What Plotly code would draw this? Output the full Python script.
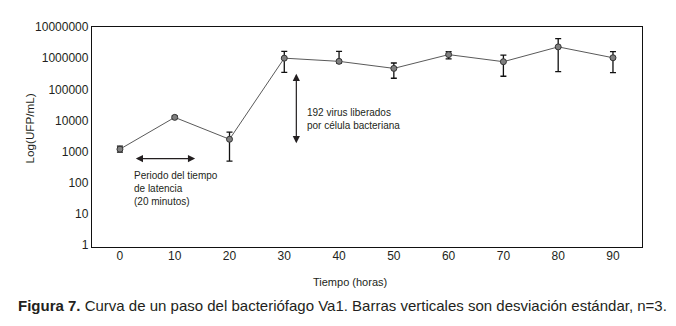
import plotly.graph_objects as go
import math

tiempo = [0, 10, 20, 30, 40, 50, 60, 70, 80, 90]
ufp = [1200, 12600, 2500, 1000000, 790000, 470000, 1300000, 770000, 2300000, 1030000]
err_sup = [1500, 14000, 4200, 1660000, 1660000, 700000, 1630000, 1250000, 4250000, 1620000]
err_inf = [960, 11500, 500, 350000, 700000, 227000, 955000, 263000, 370000, 345000]

y_ticks = [1, 10, 100, 1000, 10000, 100000, 1000000, 10000000]
y_ticktext = ["1", "10", "100", "1000", "10000", "100000", "1000000", "10000000"]
x_ticks = [0, 10, 20, 30, 40, 50, 60, 70, 80, 90]

FONT = "Liberation Sans, Arial, sans-serif"
INK = "#231f20"

fig = go.Figure()
fig.add_trace(go.Scatter(
    x=tiempo, y=ufp, mode="lines+markers",
    line=dict(color="#5a5a5a", width=1),
    marker=dict(size=6, color="#7f7f7f", line=dict(color="#333333", width=1)),
    error_y=dict(type="data", symmetric=False,
                 array=[s - v for s, v in zip(err_sup, ufp)],
                 arrayminus=[v - i for v, i in zip(ufp, err_inf)],
                 color="#111111", thickness=1.3, width=3),
    showlegend=False,
))

annotations = [
    # latency double arrow
    dict(x=2.9, y=math.log10(600), ax=14.0, ay=math.log10(600), xref="x", yref="y",
         axref="x", ayref="y", text="", showarrow=True, arrowhead=2, arrowside="end+start",
         arrowsize=1.2, arrowwidth=1.2, arrowcolor=INK),
    dict(x=2.2, y=math.log10(600), xref="x", yref="y", xanchor="left", yanchor="top",
         yshift=-9, align="left", showarrow=False,
         text="Periodo del tiempo<br>de latencia<br>(20 minutos)",
         font=dict(family=FONT, size=10, color=INK)),
    # burst vertical double arrow
    dict(x=32.2, y=5.5, ax=32.2, ay=3.22, xref="x", yref="y", axref="x", ayref="y",
         text="", showarrow=True, arrowhead=2, arrowside="end+start",
         arrowsize=1.2, arrowwidth=1.2, arrowcolor=INK),
    dict(x=33.8, y=4.05, xref="x", yref="y", xanchor="left", yanchor="middle",
         align="left", showarrow=False,
         text="192 virus liberados<br>por célula bacteriana",
         font=dict(family=FONT, size=10, color=INK)),
    # axis titles
    dict(x=-0.114, y=0.54, xref="paper", yref="paper", xanchor="center", yanchor="middle",
         text="Log(UFP/mL)", textangle=-90,
         showarrow=False, font=dict(family=FONT, size=11.7, color=INK)),
    dict(x=0.469, y=-0.159, xref="paper", yref="paper", xanchor="center", yanchor="middle",
         text="Tiempo (horas)",
         showarrow=False, font=dict(family=FONT, size=11, color=INK)),
    # caption
    dict(x=-0.138, y=-0.265, xref="paper", yref="paper", xanchor="left", yanchor="middle",
         text="<b>Figura 7.</b> Curva de un paso del bacteriófago Va1. Barras verticales son desviación estándar, n=3.",
         showarrow=False, font=dict(family=FONT, size=15, color=INK)),
]

fig.update_layout(
    width=660, height=310,
    margin=dict(l=84, r=26, t=13, b=71),
    paper_bgcolor="white", plot_bgcolor="white",
    font=dict(family=FONT, size=12, color=INK),
    annotations=annotations,
)
fig.update_xaxes(range=[-5.1, 95.3], tickvals=x_ticks, showgrid=False, zeroline=False,
                 showline=True, linecolor="#111111", linewidth=1.3, mirror=True,
                 ticks="", ticklabelstandoff=-3,
                 tickfont=dict(family=FONT, size=12, color=INK))
fig.update_yaxes(type="log", range=[-0.06, 7.0], tickvals=y_ticks, ticktext=y_ticktext,
                 showgrid=False, zeroline=False, showline=True, linecolor="#111111",
                 linewidth=1.3, mirror=True, ticks="",
                 tickfont=dict(family=FONT, size=12, color=INK))

fig.write_html("out.html")
